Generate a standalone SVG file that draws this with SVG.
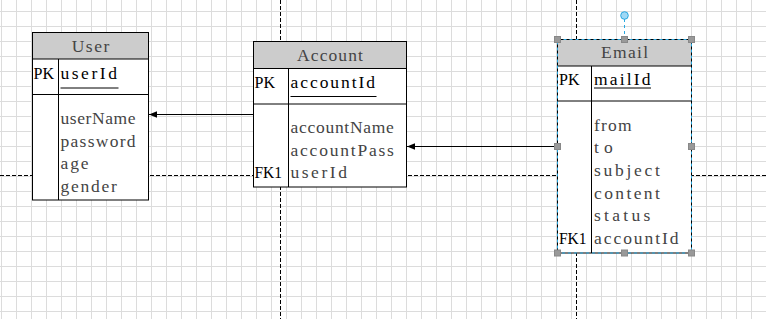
<svg xmlns="http://www.w3.org/2000/svg" width="766" height="319" viewBox="0 0 766 319">
  <defs>
    <pattern id="grid" x="1" y="11" width="15" height="15" patternUnits="userSpaceOnUse">
      <path d="M0.5 0V15M0 0.5H15" stroke="#dcdcdc" stroke-width="1" fill="none"/>
    </pattern>
    <marker id="arrow" viewBox="0 0 8 8" refX="8" refY="4" markerWidth="8" markerHeight="8" markerUnits="userSpaceOnUse" orient="auto">
      <path d="M0 0.8L8 4L0 7.2Z" fill="#000"/>
    </marker>
  </defs>
  <style>
    .page { stroke: #000; stroke-width: 1; stroke-dasharray: 4 2; fill: none; }
    .box { fill: #fff; stroke: #000; stroke-width: 1; }
    .head { fill: #cccccc; stroke: #000; stroke-width: 1; }
    .rule { stroke: #000; stroke-width: 1; fill: none; }
    text { font-family: "Liberation Serif", "DejaVu Serif", serif; font-size: 17.5px; }
    .title { fill: #444; text-anchor: middle; }
    .key { fill: #000; }
    .attr { fill: #444; }
    .edge { stroke: #000; stroke-width: 1; fill: none; marker-end: url(#arrow); }
    .sel { stroke: #29a8e0; stroke-width: 1; stroke-dasharray: 3 3; fill: none; }
    .handle { fill: #999; stroke: #888; stroke-width: 1; }
  </style>

  <!-- canvas -->
  <rect x="0" y="0" width="766" height="319" fill="#fff"/>
  <rect x="0" y="0" width="766" height="319" fill="url(#grid)"/>

  <!-- page breaks -->
  <g id="page-breaks">
    <line class="page" x1="0" y1="175.5" x2="766" y2="175.5"/>
    <line class="page" x1="280.5" y1="0" x2="280.5" y2="319"/>
    <line class="page" x1="576.5" y1="0" x2="576.5" y2="319"/>
  </g>

  <!-- User entity -->
  <g id="user">
    <rect class="box" x="32.5" y="32.5" width="116" height="167.5"/>
    <rect class="head" x="32.5" y="32.5" width="116" height="26.5"/>
    <line class="rule" x1="32.5" y1="94.5" x2="148.5" y2="94.5"/>
    <line class="rule" x1="58.5" y1="59" x2="58.5" y2="200"/>
    <text class="title" x="90.5" y="51.5" textLength="37.6" lengthAdjust="spacing">User</text>
    <text class="key" x="33.5" y="79" textLength="20.5" lengthAdjust="spacingAndGlyphs">PK</text>
    <text class="key" x="60.5" y="79" textLength="56.4" lengthAdjust="spacing">userId</text>
    <line class="rule" x1="60.5" y1="88" x2="118.5" y2="88"/>
    <text class="attr" x="60.5" y="124" textLength="75" lengthAdjust="spacing">userName</text>
    <text class="attr" x="60.5" y="146.6" textLength="75" lengthAdjust="spacing">password</text>
    <text class="attr" x="60.5" y="169.2" textLength="28" lengthAdjust="spacing">age</text>
    <text class="attr" x="60.5" y="191.8" textLength="56.4" lengthAdjust="spacing">gender</text>
  </g>

  <!-- Account entity -->
  <g id="account">
    <rect class="box" x="253.5" y="41.5" width="153" height="145.5"/>
    <rect class="head" x="253.5" y="41.5" width="153" height="27"/>
    <line class="rule" x1="253.5" y1="104" x2="406.5" y2="104"/>
    <line class="rule" x1="288.5" y1="68.5" x2="288.5" y2="187"/>
    <text class="title" x="330" y="61" textLength="65.8" lengthAdjust="spacing">Account</text>
    <text class="key" x="254.5" y="87.7" textLength="20.5" lengthAdjust="spacingAndGlyphs">PK</text>
    <text class="key" x="290.5" y="87.7" textLength="84.6" lengthAdjust="spacing">accountId</text>
    <line class="rule" x1="290.5" y1="96.5" x2="376.5" y2="96.5"/>
    <text class="attr" x="290.5" y="133.3" textLength="103.4" lengthAdjust="spacing">accountName</text>
    <text class="attr" x="290.5" y="155.5" textLength="103.4" lengthAdjust="spacing">accountPass</text>
    <text class="attr" x="290.5" y="177.7" textLength="56.4" lengthAdjust="spacing">userId</text>
    <text class="key" x="254.5" y="177.7" textLength="27.5" lengthAdjust="spacingAndGlyphs">FK1</text>
  </g>

  <!-- Email entity -->
  <g id="email">
    <rect class="box" x="557.5" y="39.5" width="134" height="213.5"/>
    <rect class="head" x="557.5" y="39.5" width="134" height="26.5"/>
    <line class="rule" x1="557.5" y1="101" x2="691.5" y2="101"/>
    <line class="rule" x1="591.5" y1="66" x2="591.5" y2="253"/>
    <text class="title" x="624.5" y="58" textLength="47" lengthAdjust="spacing">Email</text>
    <text class="key" x="559" y="85" textLength="20.5" lengthAdjust="spacingAndGlyphs">PK</text>
    <text class="key" x="594" y="85" textLength="56.4" lengthAdjust="spacing">mailId</text>
    <line class="rule" x1="594" y1="88" x2="651" y2="88"/>
    <text class="attr" x="594" y="130.7" textLength="37.6" lengthAdjust="spacing">from</text>
    <text class="attr" x="594" y="153.3" textLength="18.8" lengthAdjust="spacing">to</text>
    <text class="attr" x="594" y="176" textLength="65.8" lengthAdjust="spacing">subject</text>
    <text class="attr" x="594" y="198.6" textLength="65.8" lengthAdjust="spacing">content</text>
    <text class="attr" x="594" y="221.2" textLength="56.4" lengthAdjust="spacing">status</text>
    <text class="attr" x="594" y="244" textLength="84.6" lengthAdjust="spacing">accountId</text>
    <text class="key" x="559" y="244" textLength="27.5" lengthAdjust="spacingAndGlyphs">FK1</text>
  </g>

  <!-- relationships -->
  <g id="connectors">
    <line class="edge" x1="253.5" y1="114.5" x2="149" y2="114.5"/>
    <line class="edge" x1="557.5" y1="146.5" x2="407" y2="146.5"/>
  </g>

  <!-- selection frame on Email -->
  <g id="selection">
    <rect class="sel" x="557.5" y="39.5" width="134" height="213.5"/>
    <line class="sel" x1="624.5" y1="19" x2="624.5" y2="37"/>
    <circle cx="624.5" cy="15.5" r="3.8" fill="#9fd8f5" stroke="#29a8e0" stroke-width="1"/>
    <rect class="handle" x="554.5" y="36.5" width="6" height="6"/>
    <rect class="handle" x="621.5" y="36.5" width="6" height="6"/>
    <rect class="handle" x="688.5" y="36.5" width="6" height="6"/>
    <rect class="handle" x="554.5" y="143.5" width="6" height="6"/>
    <rect class="handle" x="688.5" y="143.5" width="6" height="6"/>
    <rect class="handle" x="554.5" y="250" width="6" height="6"/>
    <rect class="handle" x="621.5" y="250" width="6" height="6"/>
    <rect class="handle" x="688.5" y="250" width="6" height="6"/>
  </g>
</svg>
